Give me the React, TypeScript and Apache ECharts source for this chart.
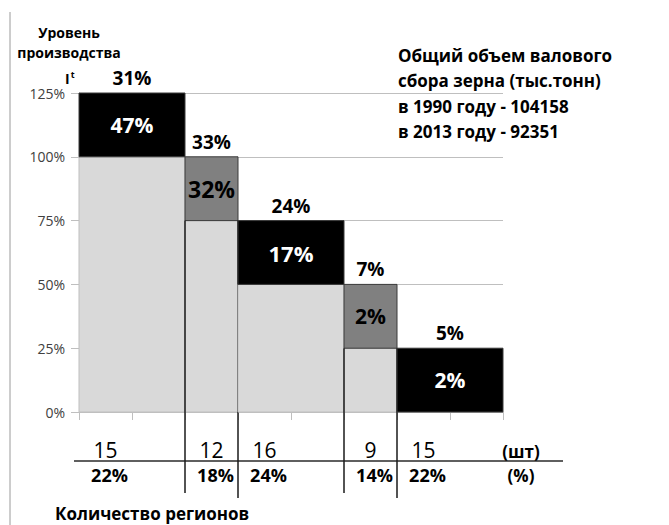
import React, { useEffect, useRef } from "react";
import * as echarts from "echarts";

// Each group of regions: horizontal span (axis units), lower (light) level, upper level (%)
const barStart = [0, 2, 3, 5, 6];
const barEnd = [2, 3, 5, 6, 8];
const baseLevel = [100, 75, 50, 25, 0];
const topLevel = [125, 100, 75, 50, 25];
const innerLabels = ["47%", "32%", "17%", "2%", "2%"];
const aboveLabels = ["31%", "33%", "24%", "7%", "5%"];
const regionCounts = ["15", "12", "16", "9", "15"];
const regionShares = ["22%", "18%", "24%", "14%", "22%"];
const unitLabels = ["(шт)", "(%)"];
const titleLines = ["Уровень", "производства"];
const infoLines = [
  "Общий объем валового",
  "сбора зерна (тыс.тонн)",
  "в 1990 году - 104158",
  "в 2013 году - 92351",
];
const footerLabel = "Количество регионов";

const FONT = "'Open Sans', 'Noto Sans', sans-serif";

export default function App() {
  const ref = useRef<HTMLDivElement>(null);

  useEffect(() => {
    if (!ref.current) return;
    const chart = echarts.init(ref.current, undefined, { renderer: "svg" });

    const data = barStart.map((s, i) => [s, barEnd[i], baseLevel[i], topLevel[i], i]);

    const renderItem = (params: any, api: any) => {
      const s = api.value(0);
      const e = api.value(1);
      const base = api.value(2);
      const top = api.value(3);
      const i = api.value(4);
      const p0 = api.coord([s, 0]);
      const p1 = api.coord([e, base]);
      const p2 = api.coord([e, top]);
      const x0 = p0[0];
      const x1 = p1[0];
      const yZero = p0[1];
      const yBase = p1[1];
      const yTop = p2[1];
      const dark = i % 2 === 0;
      const children: any[] = [];
      if (base > 0) {
        children.push({
          type: "rect",
          shape: { x: x0, y: yBase, width: x1 - x0, height: yZero - yBase },
          style: { fill: "#d9d9d9", stroke: "#bfbfbf", lineWidth: 1 },
        });
      }
      children.push({
        type: "rect",
        shape: { x: x0, y: yTop, width: x1 - x0, height: yBase - yTop },
        style: { fill: dark ? "#000000" : "#808080", stroke: "#3a3a3a", lineWidth: 1 },
      });
      const cx = (x0 + x1) / 2;
      children.push({
        type: "text",
        style: {
          x: cx,
          y: (yTop + yBase) / 2,
          text: innerLabels[i],
          fill: dark ? "#ffffff" : "#000000",
          font: `bold ${i === 1 ? 23 : i === 2 ? 22 : 21}px ${FONT}`,
          align: "center",
          verticalAlign: "middle",
        },
      });
      children.push({
        type: "text",
        style: {
          x: cx,
          y: yTop - 15,
          text: aboveLabels[i],
          fill: "#000000",
          font: `bold 19px ${FONT}`,
          align: "center",
          verticalAlign: "middle",
        },
      });
      // boundary lines of narrow groups extended below axis
      if (!dark) {
        children.push({
          type: "line",
          shape: { x1: x0, y1: yBase, x2: x0, y2: yZero + 81 },
          style: { stroke: "#1a1a1a", lineWidth: 1.5 },
        });
        children.push({
          type: "line",
          shape: { x1: x1, y1: yBase, x2: x1, y2: yZero + 86 },
          style: { stroke: "#1a1a1a", lineWidth: 1.5 },
        });
      }
      const unitW = api.coord([1, 0])[0] - api.coord([0, 0])[0];
      const lx = x0 + unitW / 2;
      children.push({
        type: "text",
        style: {
          x: lx,
          y: yZero + 38,
          text: regionCounts[i],
          fill: "#000000",
          font: `normal 21px ${FONT}`,
          align: "center",
          verticalAlign: "middle",
        },
      });
      children.push({
        type: "text",
        style: {
          x: lx + 4,
          y: yZero + 63,
          text: regionShares[i],
          fill: "#000000",
          font: `bold 18px ${FONT}`,
          align: "center",
          verticalAlign: "middle",
        },
      });
      return { type: "group", children };
    };

    const graphic: any[] = [
      { type: "line", shape: { x1: 10, y1: 12, x2: 10, y2: 525 }, style: { stroke: "#9a9a9a", lineWidth: 1 } },
      { type: "line", shape: { x1: 74, y1: 461, x2: 563, y2: 461 }, style: { stroke: "#2a2a2a", lineWidth: 1.5 } },
      ...titleLines.map((t, k) => ({
        type: "text",
        x: 69,
        y: 32 + k * 20,
        style: { text: t, fill: "#000", font: `bold 14px ${FONT}`, align: "center", verticalAlign: "middle" },
      })),
      {
        type: "text",
        x: 65,
        y: 78,
        style: {
          text: "I{sup|t}",
          fill: "#000",
          font: `bold 14px ${FONT}`,
          align: "left",
          verticalAlign: "middle",
          rich: { sup: { fontSize: 9, fontWeight: "bold", fontFamily: FONT, verticalAlign: "top", padding: [0, 0, 8, 1] } },
        },
      },
      ...infoLines.map((t, k) => ({
        type: "text",
        x: 398,
        y: 55 + k * 25.5,
        style: { text: t, fill: "#000", font: `bold 17px ${FONT}`, align: "left", verticalAlign: "middle" },
      })),
      ...unitLabels.map((t, k) => ({
        type: "text",
        x: 521,
        y: 451 + k * 24,
        style: { text: t, fill: "#000", font: `bold 17px ${FONT}`, align: "center", verticalAlign: "middle" },
      })),
      {
        type: "text",
        x: 55,
        y: 513,
        style: { text: footerLabel, fill: "#000", font: `bold 17px ${FONT}`, align: "left", verticalAlign: "middle" },
      },
    ];

    chart.setOption({
      animation: false,
      grid: { left: 79, right: 166, top: 93, bottom: 113, containLabel: false },
      xAxis: {
        type: "value",
        min: 0,
        max: 8,
        interval: 1,
        axisLabel: { show: false },
        splitLine: { show: false },
        axisLine: { show: true, lineStyle: { color: "#bfbfbf", width: 1 } },
        axisTick: { show: true, length: 8, lineStyle: { color: "#bfbfbf" } },
      },
      yAxis: {
        type: "value",
        min: 0,
        max: 125,
        interval: 25,
        axisLabel: { formatter: "{value}%", color: "#404040", fontSize: 14, fontFamily: FONT, margin: 14 },
        axisLine: { show: true, lineStyle: { color: "#bfbfbf" } },
        axisTick: { show: true, length: 8, lineStyle: { color: "#bfbfbf" } },
        splitLine: { show: true, lineStyle: { color: "#bfbfbf", width: 1 } },
      },
      series: [
        {
          type: "custom",
          renderItem,
          data,
          clip: false,
          encode: { x: [0, 1], y: [2, 3] },
          z: 3,
        },
      ],
      graphic,
    });

    return () => chart.dispose();
  }, []);

  return <div ref={ref} style={{ width: 669, height: 525, position: "absolute", left: 0, top: 0 }} />;
}
